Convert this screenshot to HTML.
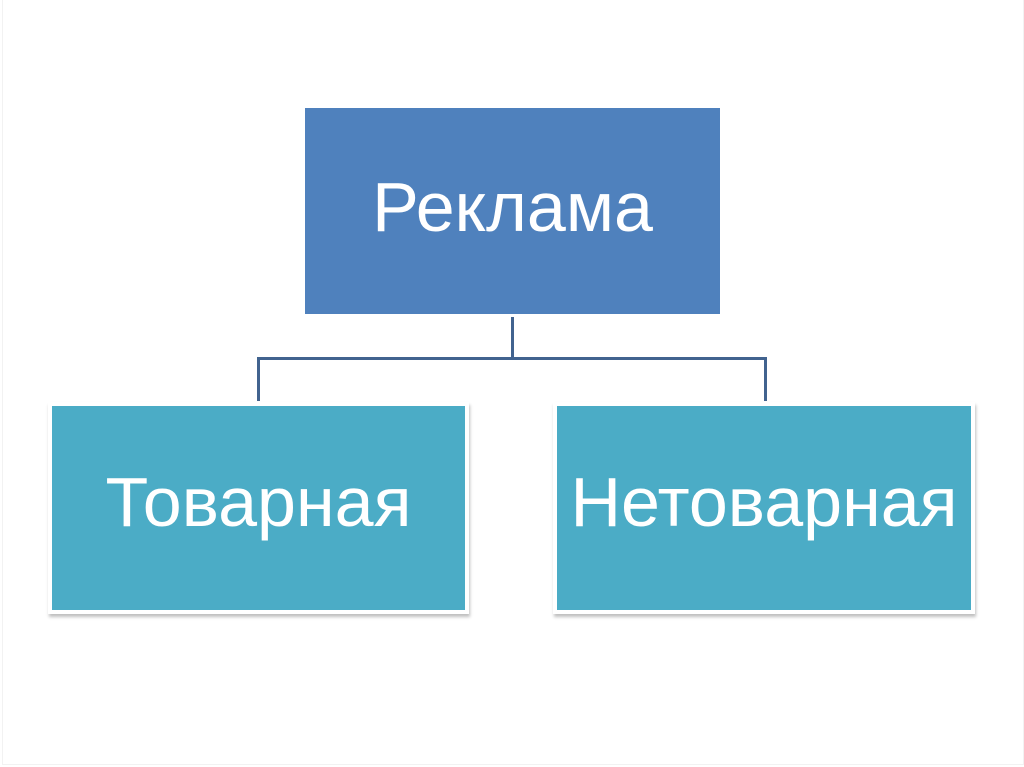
<!DOCTYPE html>
<html><head><meta charset="utf-8"><style>
body{margin:0;width:1024px;height:767px;background:#fff;position:relative;overflow:hidden;font-family:"Liberation Sans",sans-serif}
.b{position:absolute;display:flex;align-items:center;justify-content:center;color:#fff;font-size:70px;box-sizing:border-box}
.top{left:305px;top:108px;width:415px;height:206px;background:#4f81bd;padding-bottom:8px}
.t{background:#4bacc6;border:4px solid #fff;box-shadow:1px 3px 3px rgba(0,0,0,0.25)}
.l{position:absolute;background:#41638f}
</style></head><body>
<div style="position:absolute;left:2px;top:0;width:1020px;height:764px;border:1px solid #f2f2f2;border-top:none"></div>
<div class="b top">Реклама</div>
<div class="l" style="left:511px;top:317px;width:3px;height:43px"></div>
<div class="l" style="left:257px;top:357px;width:510px;height:3px"></div>
<div class="l" style="left:257px;top:357px;width:3px;height:44px"></div>
<div class="l" style="left:764px;top:357px;width:3px;height:44px"></div>
<div class="b t" style="left:48px;top:402px;width:421px;height:212px;padding-bottom:12px">Товарная</div>
<div class="b t" style="left:553px;top:402px;width:422px;height:212px;padding-bottom:12px">Нетоварная</div>
</body></html>
